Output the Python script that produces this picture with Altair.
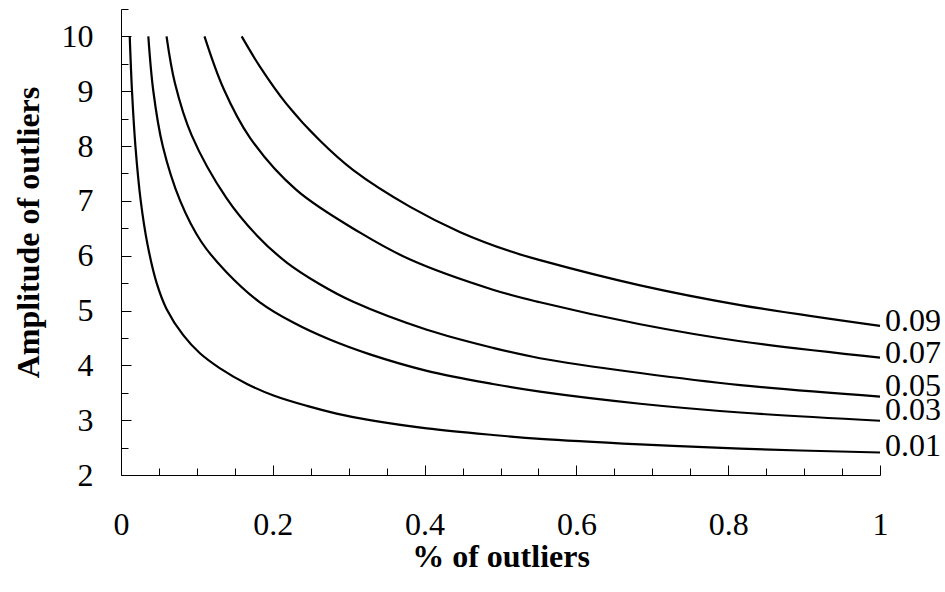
import altair as alt
import pandas as pd

# ---- data ----
levels = ["0.01", "0.03", "0.05", "0.07", "0.09"]

x01 = [0.0115, 0.0145, 0.019, 0.026, 0.035, 0.047, 0.060, 0.082, 0.104, 0.130, 0.166,
       0.201, 0.245, 0.284, 0.328, 0.403, 0.49, 0.552, 0.684, 0.816, 1.0]
y01 = [10.0, 9.0, 8.0, 7.0, 6.2, 5.5, 5.03, 4.55, 4.22, 3.95, 3.66,
       3.45, 3.26, 3.12, 3.0, 2.85, 2.73, 2.66, 2.56, 2.48, 2.41]

x03 = [0.036, 0.0426, 0.055, 0.078, 0.106, 0.139, 0.183, 0.227, 0.275, 0.328,
       0.403, 0.49, 0.552, 0.684, 0.816, 1.0]
y03 = [10.0, 9.0, 8.0, 7.0, 6.25, 5.7, 5.15, 4.78, 4.47, 4.2,
       3.9, 3.66, 3.52, 3.30, 3.14, 2.99]

x05 = [0.060, 0.071, 0.093, 0.139, 0.179, 0.218, 0.262, 0.306, 0.403,
       0.49, 0.552, 0.684, 0.816, 1.0]
y05 = [10.0, 9.15, 8.2, 7.05, 6.37, 5.88, 5.48, 5.16, 4.65,
       4.32, 4.13, 3.86, 3.64, 3.43]

x07 = [0.110, 0.135, 0.170, 0.231, 0.315, 0.381, 0.49, 0.552, 0.684,
       0.816, 1.0]
y07 = [10.0, 9.05, 8.15, 7.2, 6.42, 5.93, 5.38, 5.15, 4.75,
       4.44, 4.14]

x09 = [0.159, 0.183, 0.218, 0.262, 0.306, 0.381, 0.447, 0.513, 0.552,
       0.684, 0.816, 1.0]
y09 = [10.0, 9.45, 8.77, 8.10, 7.56, 6.89, 6.43, 6.08, 5.92,
       5.46, 5.10, 4.72]

label_y = [2.53, 3.18, 3.62, 4.22, 4.81]

x_major = [0, 0.2, 0.4, 0.6, 0.8, 1.0]
x_minor = [0.05, 0.1, 0.15, 0.25, 0.3, 0.35, 0.45, 0.5, 0.55,
           0.65, 0.7, 0.75, 0.85, 0.9, 0.95]
y_major = [2, 3, 4, 5, 6, 7, 8, 9, 10]
y_minor = [2.5, 3.5, 4.5, 5.5, 6.5, 7.5, 8.5, 9.5, 10.5]

rows = []
for lev, xs_, ys_ in zip(levels, [x01, x03, x05, x07, x09], [y01, y03, y05, y07, y09]):
    for a, b in zip(xs_, ys_):
        rows.append({"level": lev, "p": a, "amp": b})
df = pd.DataFrame(rows)
lab_df = pd.DataFrame({"level": levels, "p": [1.0] * len(levels), "amp": label_y})

FONT = "Liberation Serif"
xscale = alt.Scale(domain=[0, 1], nice=False, zero=False)
yscale = alt.Scale(domain=[2, 10.5], nice=False, zero=False)

main = alt.Chart(df).mark_line(color="black", strokeWidth=2.2, interpolate="catmull-rom").encode(
    x=alt.X("p:Q", scale=xscale, axis=alt.Axis(
        orient="bottom", values=x_major, format="~g", ticks=False, tickSize=0,
        domain=True, domainColor="black", domainWidth=1, grid=False,
        labelFlush=False, labelOverlap=False, labelPadding=34,
        labelFont=FONT, labelFontSize=32, labelColor="black",
        title="% of outliers", titleFont=FONT, titleFontSize=32,
        titleFontWeight="bold", titleColor="black",
        titleY=91, titleBaseline="alphabetic")),
    y=alt.Y("amp:Q", scale=yscale, axis=alt.Axis(
        orient="left", values=y_major, format="d", ticks=False, tickSize=0,
        domain=True, domainColor="black", domainWidth=1, grid=False,
        labelFlush=False, labelOverlap=False, labelPadding=28,
        labelFont=FONT, labelFontSize=32, labelColor="black",
        title="Amplitude of outliers", titleFont=FONT, titleFontSize=32,
        titleFontWeight="bold", titleColor="black", titlePadding=16,
        titleY=223)),
    detail="level:N",
)


def tick_layer(xv, yv, size):
    return alt.Chart(df).mark_line(opacity=0).encode(
        x=alt.X("p:Q", scale=xscale, axis=alt.Axis(
            orient="bottom", values=xv, offset=-size, tickSize=size, ticks=True,
            tickColor="black", tickWidth=1, labels=False, domain=False,
            grid=False, title=None)),
        y=alt.Y("amp:Q", scale=yscale, axis=alt.Axis(
            orient="left", values=yv, offset=-size, tickSize=size, ticks=True,
            tickColor="black", tickWidth=1, labels=False, domain=False,
            grid=False, title=None)),
        detail="level:N",
    )


labels = alt.Chart(lab_df).mark_text(
    align="left", baseline="middle", dx=5, font=FONT, fontSize=32, color="black"
).encode(
    x=alt.X("p:Q", scale=xscale, axis=None),
    y=alt.Y("amp:Q", scale=yscale, axis=None),
    text="level:N",
)

chart = alt.layer(main, tick_layer(x_major, y_major, 10), tick_layer(x_minor, y_minor, 7), labels).resolve_axis(
    x="independent", y="independent"
).properties(
    width=759, height=466,
    autosize=alt.AutoSizeParams(type="none"),
    padding={"left": 121, "top": 9, "right": 65, "bottom": 117},
    background="white",
).configure_view(stroke=None)

chart.save("out.html", embed_options={"renderer": "svg", "actions": False})
